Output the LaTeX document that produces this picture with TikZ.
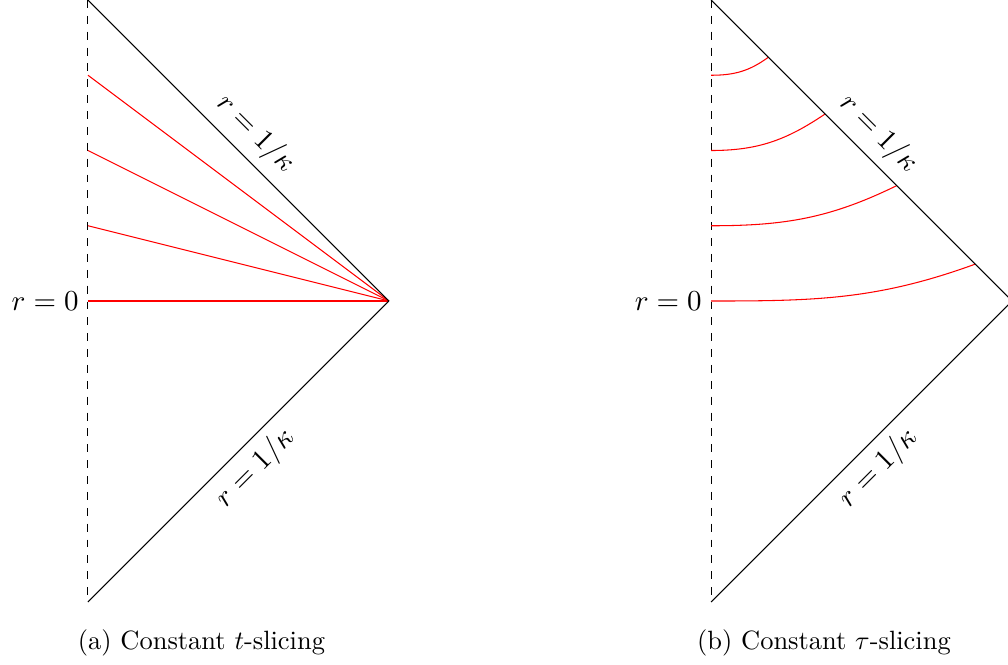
\documentclass[tikz,border=0pt]{standalone}
\usepackage{tikz}
\usetikzlibrary{positioning}
\tikzstyle{origin} = [dashed]
\tikzstyle{horizon} = [draw=black]
\tikzstyle{slice} = [draw=red]
\tikzstyle{coordlabel} = [font=\fontsize{11}{13}\selectfont]
\tikzstyle{subcap} = [font=\normalsize]

\begin{document}
\begin{tikzpicture}
        \useasboundingbox (-1.169,-4.824) rectangle (12.226,4);

        % (a) constant t
        \coordinate (Atop) at (0,4);
        \coordinate (Aorigin) at (0,0);
        \coordinate (Abot) at (0,-4);
        \coordinate (Atip) at (4,0);
        \draw [origin] (Atop) -- (Abot);
        \foreach \y in {0,1,2,3}
                \draw [slice] (0,\y) -- (Atip);
        \draw [horizon] (Atop) -- node [coordlabel, sloped, above] {$r=1/\kappa$} (Atip);
        \draw [horizon] (Abot) -- node [coordlabel, sloped, below] {$r=1/\kappa$} (Atip);
        \node (Azero) [coordlabel, left] at (Aorigin) {$r=0$};
        \node (capa) [subcap] at (1.508,-4.545) {(a) Constant $t$-slicing};

        % (b) constant tau
        \begin{scope}[xshift=8.28cm]
        \coordinate (Btop) at (0,4);
        \coordinate (Borigin) at (0,0);
        \coordinate (Bbot) at (0,-4);
        \coordinate (Btip) at (4,0);
        \draw [origin] (Btop) -- (Bbot);
        \foreach \y/\x/\a in {3/0.761/216, 2/1.515/214, 1/2.467/206, 0/3.51/200}
                \draw [slice] (0,\y) to [out=0, in=\a] (\x,4-\x);
        \draw [horizon] (Btop) -- node [coordlabel, sloped, above] {$r=1/\kappa$} (Btip);
        \draw [horizon] (Bbot) -- node [coordlabel, sloped, below] {$r=1/\kappa$} (Btip);
        \node (Bzero) [coordlabel, left] at (Borigin) {$r=0$};
        \node (capb) [subcap] at (1.5,-4.545) {(b) Constant $\tau$-slicing};
        \end{scope}
\end{tikzpicture}
\end{document}
